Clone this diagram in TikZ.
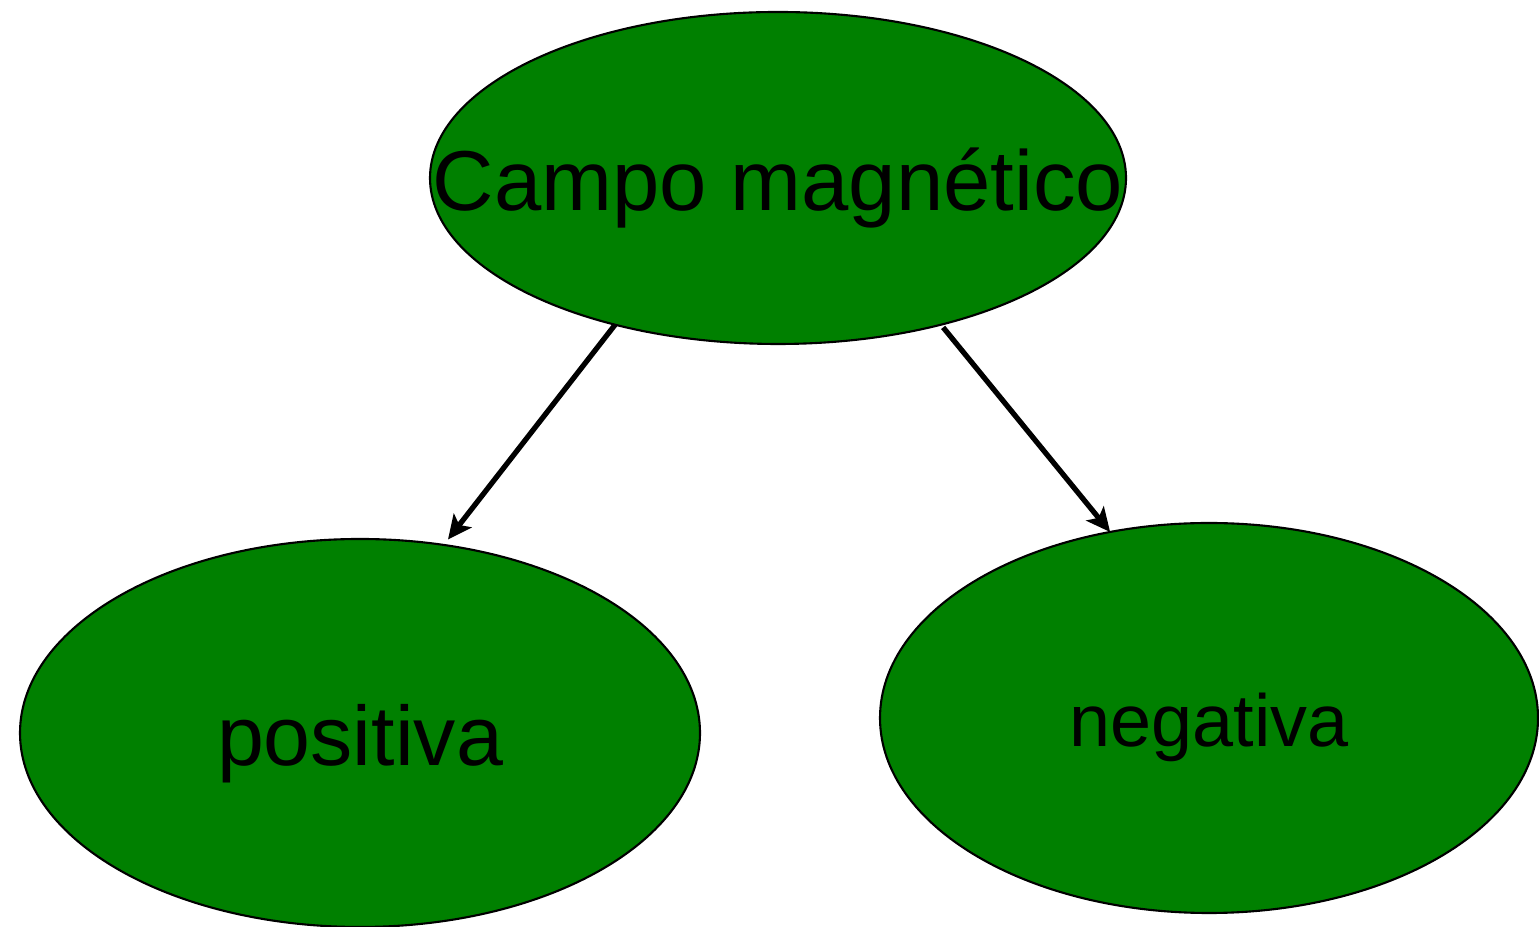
\documentclass[tikz,border=0pt]{standalone}
\usepackage{fontspec}
\setmainfont{Liberation Sans}
\usetikzlibrary{shapes.geometric, arrows, arrows.meta, positioning}
\definecolor{bubblegreen}{RGB}{0,128,0}
\tikzstyle{arrow}  = [line width=1.5pt,->,>={Stealth[length=6.8pt, width=6.4pt, inset=1.6pt]}]
\tikzstyle{bubble} = [ellipse, draw=black, line width=0.6pt, fill=bubblegreen, inner sep=0pt, outer sep=0pt]

\begin{document}
\begin{tikzpicture}[
        txt/.style={inner sep=0pt, anchor=base}
    ]
        \useasboundingbox (0,0) rectangle (15.39,9.27);

        \node[bubble, minimum width=6.96cm, minimum height=3.32cm] (campo) at (7.78,7.49) {};
        \node[bubble, minimum width=6.80cm, minimum height=3.88cm] (pos) at (3.60,1.94) {};
        \node[bubble, minimum width=6.58cm, minimum height=3.90cm] (neg) at (12.09,2.09) {};

        \node[txt, font=\fontsize{24.2}{28}\selectfont] (tcampo) at ([yshift=-0.33cm]campo.center) {Campo magnético};
        \node[txt, font=\fontsize{24}{28}\selectfont] (tpos) at ([yshift=-0.33cm]pos.center) {positiva};
        \node[txt, font=\fontsize{21}{25}\selectfont] (tneg) at ([yshift=-0.29cm]neg.center) {negativa};

        \draw[arrow, shorten >=2pt] (campo.222) -- (pos.66);
        \draw[arrow, shorten <=1pt] (campo.318) -- (neg.118);

    \end{tikzpicture}
\end{document}
